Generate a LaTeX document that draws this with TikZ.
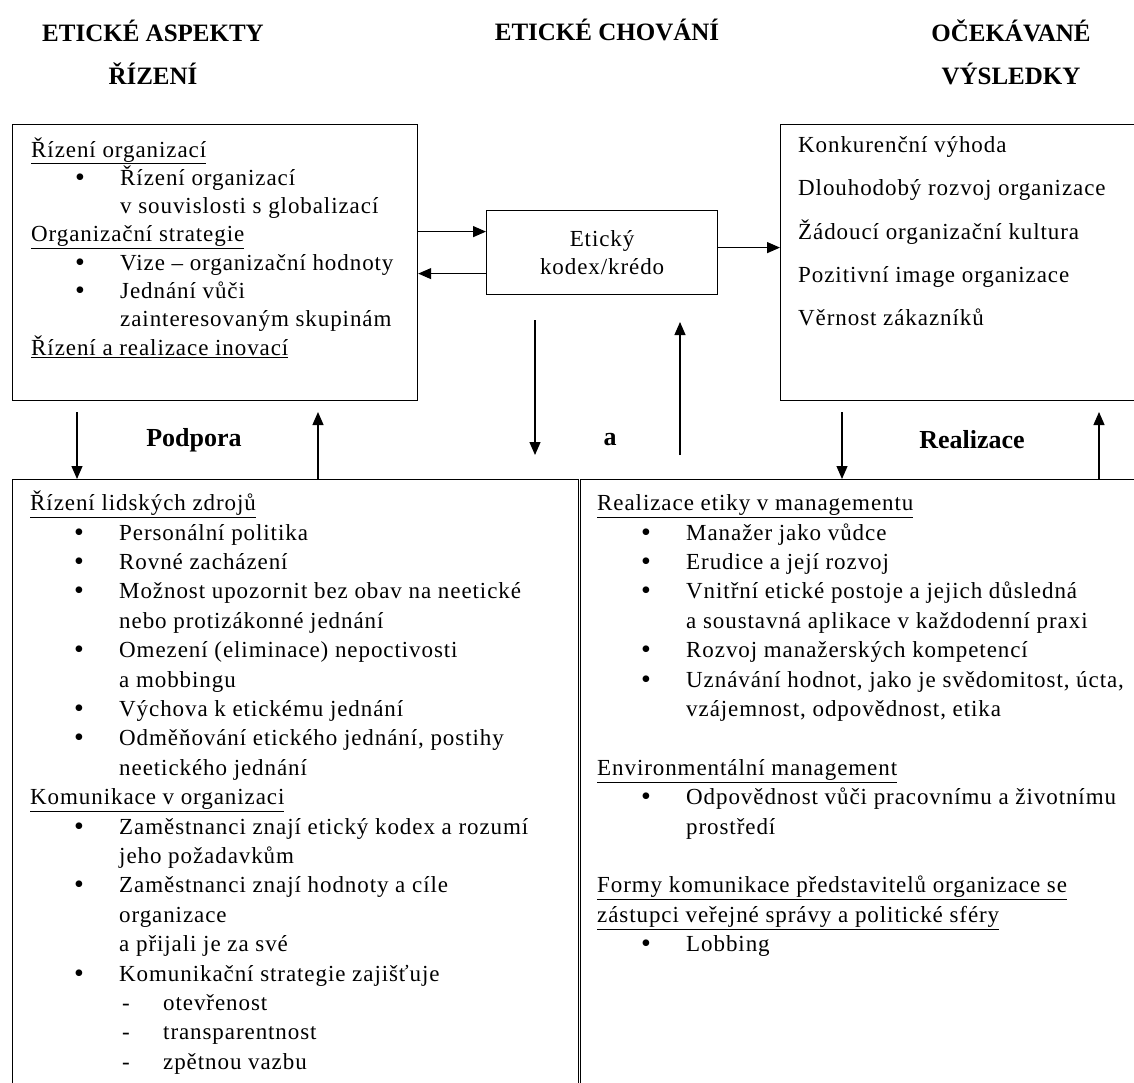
\documentclass[tikz,border=0pt]{standalone}
\usepackage{fontspec}
\setmainfont{Liberation Serif}
\newfontfamily\bodyfont[LetterSpace=4]{Liberation Serif}
\usetikzlibrary{arrows.meta}

\newcommand{\bul}[1]{\\\hspace*{44pt}\makebox[45pt][l]{\raisebox{-1pt}{\fontsize{28}{0}\selectfont\textbullet}}#1}
\newcommand{\cnt}[1]{\\\hspace*{89pt}#1}
\newcommand{\dsh}[1]{\\\hspace*{92pt}\makebox[41pt][l]{-}#1}

\tikzset{
  box/.style={draw, line width=1.2pt, anchor=north west, inner sep=0pt},
  txt/.style={anchor=north west, inner sep=0pt, align=left,
    font=\bodyfont\fontsize{23}{29.4}\selectfont},
  head/.style={font=\bfseries\fontsize{25}{43}\selectfont, align=center},
  lbl/.style={font=\bfseries\fontsize{26}{30}\selectfont},
  arr/.style={-{Triangle[length=13pt,width=11pt]}, line width=1.2pt},
}

\begin{document}
\begin{tikzpicture}[x=1pt,y=-1pt]
\useasboundingbox (0,0) rectangle (1134,1082);
\clip (0,0) rectangle (1134,1082);

% column headings
\node[head] (hasp) at (153,52) {ETICKÉ ASPEKTY\\ŘÍZENÍ};
\node[head] (hcho) at (607,30) {ETICKÉ CHOVÁNÍ};
\node[head] (hvys) at (1011,52) {OČEKÁVANÉ\\VÝSLEDKY};

% boxes
\node[box, minimum width=405pt, minimum height=276pt] (aspekty) at (12,124) {};
\node[box, minimum width=231pt, minimum height=84pt] (kodex) at (486,210) {};
\node[box, minimum width=380pt, minimum height=276pt] (vysledky) at (780,124) {};
\node[box, minimum width=566pt, minimum height=640pt] (lidske) at (12,479) {};
\node[box, minimum width=580pt, minimum height=640pt] (realizace) at (579.5,479) {};

\node[txt, font=\bodyfont\fontsize{23}{28}\selectfont, align=center] (kodextxt) at (kodex.center) [anchor=center] {Etický\\kodex/krédo};

\node[txt, font=\bodyfont\fontsize{23}{28.3}\selectfont] (aspektytxt) at (31,137) {\strut\underline{Řízení organizací}
\bul{Řízení organizací}
\cnt{v souvislosti s globalizací}
\\\underline{Organizační strategie}
\bul{Vize – organizační hodnoty}
\bul{Jednání vůči}
\cnt{zainteresovaným skupinám}
\\\underline{Řízení a realizace inovací}};

\node[txt, font=\bodyfont\fontsize{23}{43.3}\selectfont] (vysledkytxt) at (798,122) {\strut Konkurenční výhoda
\\Dlouhodobý rozvoj organizace
\\Žádoucí organizační kultura
\\Pozitivní image organizace
\\Věrnost zákazníků};

\node[txt] (lidsketxt) at (30,490) {\strut\underline{Řízení lidských zdrojů}
\bul{Personální politika}
\bul{Rovné zacházení}
\bul{Možnost upozornit bez obav na neetické}
\cnt{nebo protizákonné jednání}
\bul{Omezení (eliminace) nepoctivosti}
\cnt{a mobbingu}
\bul{Výchova k etickému jednání}
\bul{Odměňování etického jednání, postihy}
\cnt{neetického jednání}
\\\underline{Komunikace v organizaci}
\bul{Zaměstnanci znají etický kodex a rozumí}
\cnt{jeho požadavkům}
\bul{Zaměstnanci znají hodnoty a cíle}
\cnt{organizace}
\cnt{a přijali je za své}
\bul{Komunikační strategie zajišťuje}
\dsh{otevřenost}
\dsh{transparentnost}
\dsh{zpětnou vazbu}};

\node[txt] (realizacetxt) at (597,490) {\strut\underline{Realizace etiky v managementu}
\bul{Manažer jako vůdce}
\bul{Erudice a její rozvoj}
\bul{Vnitřní etické postoje a jejich důsledná}
\cnt{a soustavná aplikace v každodenní praxi}
\bul{Rozvoj manažerských kompetencí}
\bul{Uznávání hodnot, jako je svědomitost, úcta,}
\cnt{vzájemnost, odpovědnost, etika}
\\[29.4pt]\underline{Environmentální management}
\bul{Odpovědnost vůči pracovnímu a životnímu}
\cnt{prostředí}
\\[29.4pt]\underline{Formy komunikace představitelů organizace se}
\\\underline{zástupci veřejné správy a politické sféry}
\bul{Lobbing}};

% labels between the rows
\node[lbl] (podpora) at (194,440) {Podpora};
\node[lbl] (a) at (610,440) {a};
\node[lbl] (real) at (972,440) {Realizace};

% arrows around the code
\coordinate (k1) at ([yshift=21pt]kodex.west);
\coordinate (k2) at ([yshift=-21pt]kodex.west);
\draw[arr] (k1 -| aspekty.east) -- (k1);
\draw[arr] (k2) -- (k2 -| aspekty.east);
\draw[arr] ([yshift=5pt]kodex.east) coordinate (k3) -- (k3 -| vysledky.west);
\coordinate (d1) at (535,320);
\coordinate (d2) at (535,455);
\coordinate (u1) at (680,455);
\coordinate (u2) at (680,322);
\draw[arr] (d1) -- (d2);
\draw[arr] (u1) -- (u2);

% arrows between the rows
\coordinate (p1) at (77,412);
\coordinate (p2) at (318,412);
\coordinate (r1) at (842,412);
\coordinate (r2) at (1099,412);
\draw[arr] (p1) -- (p1 |- lidske.north);
\draw[arr] (p2 |- lidske.north) -- (p2);
\draw[arr] (r1) -- (r1 |- realizace.north);
\draw[arr] (r2 |- realizace.north) -- (r2);
\end{tikzpicture}
\end{document}
